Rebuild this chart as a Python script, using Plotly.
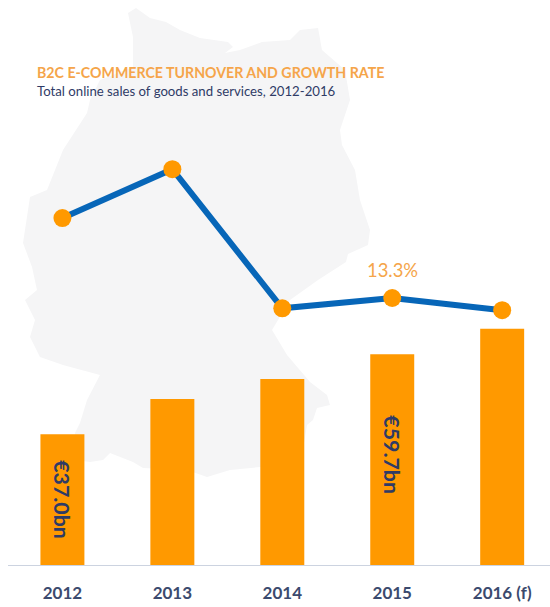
import plotly.graph_objects as go

# Chart data
years = ["2012", "2013", "2014", "2015", "2016 (f)"]
turnover_bn = [37.0, 47.0, 52.7, 59.7, 66.9]
growth_pct = [21.8, 27.0, 12.2, 13.3, 12.0]
turnover_labels = ["€37.0bn", "", "", "€59.7bn", ""]
growth_labels = ["", "", "", "13.3%", ""]
label_lift = [0, 0, 0, 5, 0]

title_text = "B2C E-COMMERCE TURNOVER AND GROWTH RATE"
subtitle_text = "Total online sales of goods and services, 2012-2016"

# Outline of Germany, in page pixels, used as a pale backdrop
germany_outline = [
    (128, 13), (136, 8), (150, 18), (166, 22), (180, 30), (200, 38), (228, 42), (233, 47),
    (225, 53), (240, 50), (262, 42), (290, 40), (300, 30), (318, 28), (322, 50), (345, 70),
    (350, 100), (340, 130), (342, 145), (355, 170), (360, 200), (370, 230), (368, 245),
    (348, 254), (346, 262), (318, 280), (290, 300), (272, 330), (287, 355), (310, 382),
    (327, 395), (330, 405), (317, 408), (313, 420), (307, 425), (300, 467), (260, 467),
    (230, 470), (207, 477), (187, 470), (143, 468), (133, 462), (110, 453), (103, 460),
    (90, 462), (75, 460), (75, 433), (80, 423), (87, 400), (100, 375), (63, 365), (40, 357),
    (30, 337), (35, 320), (25, 300), (37, 290), (32, 267), (23, 243), (30, 197), (47, 190),
    (63, 150), (87, 113), (90, 100), (100, 80), (133, 67), (133, 37),
]

PAGE_W, PAGE_H = 550, 607
LEFT, BOTTOM = 8, 42
PLOT_W, PLOT_H = PAGE_W - LEFT, PAGE_H - BOTTOM


def paper_x(px):
    return (px - LEFT) / PLOT_W


def paper_y(py):
    return 1 - py / PLOT_H


outline_path = "M " + " L ".join(
    f"{paper_x(x):.4f},{paper_y(y):.4f}" for x, y in germany_outline
) + " Z"

ORANGE = "#ff9900"
NAVY = "#2f3b66"

fig = go.Figure()

fig.add_bar(x=years, y=turnover_bn, width=0.4, marker=dict(color=ORANGE, line_width=0), hoverinfo="x+y")

fig.add_scatter(
    x=years,
    y=growth_pct,
    yaxis="y2",
    mode="lines+markers",
    line=dict(color="#0766b8", width=6),
    marker=dict(color=ORANGE, size=18),
)

annotations = [
    dict(x=paper_x(34.5), y=paper_y(72), xref="paper", yref="paper", text=f"<b>{title_text}</b>",
         showarrow=False, xanchor="left", yanchor="middle",
         font=dict(family="Lato", size=14.2, color="#f5a54a")),
    dict(x=paper_x(34.5), y=paper_y(91), xref="paper", yref="paper", text=subtitle_text,
         showarrow=False, xanchor="left", yanchor="middle",
         font=dict(family="Lato", size=13.2, color=NAVY)),
]
# Category axes position annotations by serial number, so index rather than label
for i, (value, label, lift) in enumerate(zip(turnover_bn, turnover_labels, label_lift)):
    if label:
        annotations.append(dict(x=i, y=value / 2, xref="x", yref="y", text=f"<b>{label}</b>", textangle=90,
                                showarrow=False, yshift=lift,
                                font=dict(family="Lato", size=21.3, color=NAVY)))
for i, (value, label) in enumerate(zip(growth_pct, growth_labels)):
    if label:
        annotations.append(dict(x=i, y=value, xref="x", yref="y2", text=label, showarrow=False,
                                yshift=28, font=dict(family="Lato", size=18.4, color="#f5a54a")))

fig.update_layout(
    width=PAGE_W,
    height=PAGE_H,
    autosize=False,
    margin=dict(l=LEFT, r=0, t=0, b=BOTTOM),
    paper_bgcolor="white",
    plot_bgcolor="rgba(0,0,0,0)",
    showlegend=False,
    xaxis=dict(
        type="category",
        range=[-0.495, 4.435],
        showgrid=False,
        showline=True,
        linecolor="#ccd3e0",
        linewidth=1,
        ticks="",
        ticklabelstandoff=13,
        tickfont=dict(family="Lato", size=17, color="#3b4a6e", weight="bold"),
    ),
    yaxis=dict(range=[0, 160], visible=False),
    yaxis2=dict(range=[-15.1, 45.0], visible=False, overlaying="y"),
    annotations=annotations,
    shapes=[dict(type="path", path=outline_path, xref="paper", yref="paper",
                 fillcolor="#f5f5f6", line_width=0, layer="below")],
)

fig.write_html("out.html", config={"displayModeBar": False})
